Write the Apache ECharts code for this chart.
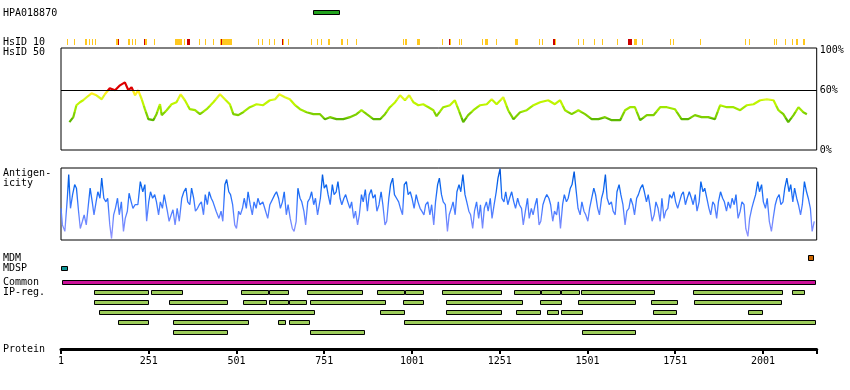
<!DOCTYPE html>
<html><head><meta charset="utf-8">
<script src="https://cdn.jsdelivr.net/npm/echarts@6/dist/echarts.min.js"></script>
<style>html,body{margin:0;padding:0;background:#fff}#c{width:850px;height:390px}</style>
</head><body><div id="c"></div>
<script>
// ---------------- data ----------------
const PROTEIN_LEN = 2154;
const axisTickValues = [1,251,501,751,1001,1251,1501,1751,2001];

const hpaFragment = [[720,795]];

const hsid10Yellow = [[18,21],[37,40],[69,75],[80,83],[88,91],[97,100],[157,164],[193,198],[204,207],[213,216],[240,247],[265,268],[326,345],[351,354],[394,397],[412,415],[433,437],[453,487],[563,566],[573,577],[593,596],[607,610],[634,637],[648,651],[714,717],[730,733],[743,746],[763,767],[799,803],[817,820],[842,845],[975,979],[982,987],[1014,1024],[1087,1090],[1105,1113],[1134,1137],[1140,1143],[1201,1204],[1208,1218],[1239,1242],[1295,1303],[1363,1366],[1372,1375],[1408,1412],[1475,1478],[1489,1492],[1519,1522],[1542,1545],[1586,1589],[1634,1642],[1656,1659],[1737,1740],[1744,1747],[1821,1824],[1950,1953],[1960,1964],[2031,2034],[2039,2042],[2064,2067],[2084,2087],[2096,2100],[2114,2120]];
const hsid10Red = [[164,167],[237,240],[361,368],[456,460],[631,634],[1106,1109],[1403,1408],[1616,1628]];

const hsid50 = [[25,28],[36,33],[45,45],[55,48],[64,50],[74,53],[88,57],[102,55],[117,51],[126,56],[140,62],[155,60],[169,65],[183,68],[193,60],[202,63],[212,55],[221,60],[231,51],[240,41],[250,31],[264,30],[273,36],[283,46],[288,35],[302,40],[316,46],[330,48],[342,56],[354,50],[368,41],[383,40],[397,36],[416,41],[435,48],[454,56],[468,51],[482,46],[492,36],[506,35],[520,38],[539,43],[558,46],[577,45],[596,50],[611,51],[623,56],[639,53],[653,51],[668,45],[682,41],[701,38],[720,36],[739,36],[753,31],[767,33],[786,31],[805,31],[824,33],[843,36],[857,40],[872,36],[891,31],[910,31],[924,36],[938,43],[953,48],[967,55],[981,50],[993,55],[1005,48],[1019,45],[1033,46],[1048,43],[1062,40],[1071,34],[1090,43],[1109,45],[1123,50],[1133,41],[1147,28],[1161,35],[1176,40],[1195,45],[1214,46],[1228,51],[1242,46],[1261,53],[1275,40],[1290,31],[1309,38],[1328,40],[1347,45],[1366,48],[1389,50],[1408,46],[1423,50],[1437,40],[1456,36],[1475,40],[1494,36],[1513,31],[1532,31],[1551,33],[1570,30],[1594,30],[1608,40],[1622,43],[1636,43],[1651,30],[1670,35],[1689,35],[1708,43],[1727,43],[1750,41],[1769,31],[1788,31],[1807,35],[1826,33],[1845,33],[1864,31],[1879,45],[1898,43],[1917,43],[1936,40],[1955,45],[1974,46],[1993,50],[2012,51],[2031,50],[2045,40],[2059,36],[2073,28],[2088,35],[2102,43],[2116,38],[2126,36]];

const antigenicity = [[1,44],[5,21],[12,12],[19,58],[23,91],[28,44],[34,63],[40,77],[45,72],[51,40],[56,16],[62,26],[67,35],[73,21],[79,49],[84,72],[90,53],[95,35],[101,53],[106,67],[112,58],[117,86],[123,58],[129,53],[134,58],[140,21],[145,2],[151,35],[156,44],[162,58],[167,35],[173,53],[179,12],[184,30],[190,40],[195,65],[201,53],[206,44],[212,49],[220,49],[227,81],[234,67],[240,77],[245,26],[251,53],[256,67],[262,58],[268,63],[273,53],[279,35],[284,53],[290,44],[295,63],[304,40],[309,26],[315,35],[320,42],[326,21],[332,44],[338,26],[345,58],[351,67],[357,72],[362,53],[368,49],[373,72],[379,58],[384,40],[390,44],[395,49],[401,53],[407,35],[412,63],[418,49],[423,67],[429,58],[434,53],[443,40],[451,30],[457,40],[462,26],[468,77],[473,84],[479,67],[484,63],[490,49],[496,21],[501,16],[507,40],[512,35],[518,44],[523,58],[529,44],[534,67],[540,49],[546,35],[551,53],[557,44],[562,58],[568,49],[576,53],[584,40],[590,30],[596,49],[601,49],[610,63],[615,67],[621,58],[626,44],[632,53],[637,67],[643,35],[648,49],[654,30],[660,16],[665,12],[671,26],[676,72],[682,58],[687,53],[693,40],[698,21],[704,53],[710,58],[715,67],[721,49],[726,58],[732,35],[740,58],[746,91],[751,72],[757,77],[762,63],[768,49],[774,77],[779,63],[785,67],[790,81],[796,58],[801,49],[807,58],[812,63],[818,53],[824,44],[829,53],[835,30],[840,40],[846,21],[851,35],[857,63],[862,53],[868,70],[874,40],[879,63],[885,70],[890,58],[896,63],[901,40],[907,49],[913,67],[918,49],[924,21],[929,26],[935,58],[940,77],[946,86],[951,63],[957,58],[963,53],[968,44],[974,35],[979,77],[985,81],[990,63],[996,67],[1001,58],[1007,44],[1013,63],[1018,53],[1024,44],[1029,40],[1035,35],[1040,49],[1046,53],[1052,35],[1057,49],[1063,21],[1068,53],[1074,77],[1079,86],[1085,63],[1090,53],[1096,49],[1102,12],[1107,35],[1113,44],[1118,53],[1124,35],[1129,67],[1135,77],[1140,67],[1146,91],[1152,63],[1157,53],[1163,40],[1168,35],[1174,16],[1179,40],[1185,53],[1191,30],[1196,49],[1202,16],[1207,44],[1213,53],[1218,40],[1224,58],[1229,30],[1235,49],[1241,67],[1246,86],[1252,99],[1257,58],[1263,53],[1268,67],[1274,49],[1279,58],[1285,67],[1291,53],[1296,44],[1302,58],[1307,49],[1313,44],[1318,21],[1324,40],[1330,58],[1335,30],[1341,44],[1346,35],[1352,49],[1357,58],[1363,21],[1368,26],[1374,49],[1380,58],[1385,63],[1391,58],[1396,49],[1402,26],[1407,40],[1413,35],[1418,53],[1424,16],[1430,49],[1435,63],[1441,53],[1446,58],[1452,72],[1457,77],[1463,95],[1469,67],[1474,44],[1480,35],[1485,53],[1491,40],[1496,35],[1502,26],[1507,44],[1513,58],[1519,72],[1524,63],[1530,44],[1535,35],[1541,58],[1546,67],[1552,91],[1557,58],[1563,49],[1569,53],[1574,40],[1580,35],[1585,67],[1591,77],[1596,63],[1602,49],[1608,21],[1613,40],[1619,44],[1624,58],[1630,49],[1635,35],[1641,58],[1646,63],[1652,72],[1658,77],[1663,67],[1669,53],[1674,63],[1680,44],[1685,26],[1691,35],[1696,53],[1702,44],[1708,26],[1713,58],[1719,30],[1724,40],[1730,44],[1735,63],[1741,58],[1747,67],[1752,53],[1758,44],[1763,53],[1769,63],[1774,67],[1780,49],[1785,58],[1791,67],[1797,58],[1802,49],[1808,63],[1813,40],[1819,53],[1824,81],[1830,67],[1835,72],[1841,58],[1847,44],[1852,35],[1858,53],[1863,49],[1869,30],[1874,53],[1880,67],[1886,58],[1891,53],[1897,40],[1902,53],[1908,44],[1913,58],[1919,49],[1924,63],[1930,30],[1936,40],[1941,53],[1947,49],[1952,16],[1958,5],[1963,30],[1969,44],[1974,53],[1980,63],[1986,81],[1991,67],[1997,77],[2002,53],[2008,44],[2013,58],[2019,26],[2025,12],[2030,30],[2036,49],[2041,58],[2047,63],[2052,49],[2058,53],[2063,72],[2069,86],[2075,67],[2080,77],[2086,53],[2091,72],[2097,58],[2102,49],[2108,35],[2113,49],[2119,81],[2125,67],[2130,58],[2136,44],[2141,12],[2147,26]];

const mdm = [[2130,2145]];
const mdsp = [[0,22]];
const common = [[4,2151]];
const ipReg = [
  [[96,251],[258,349],[515,593],[593,651],[703,862],[902,980],[980,1034],[1087,1257],[1293,1368],[1368,1425],[1425,1479],[1483,1692],[1802,2057],[2084,2120]],
  [[96,253],[310,476],[520,589],[594,650],[651,703],[711,928],[976,1036],[1099,1316],[1367,1428],[1475,1638],[1683,1758],[1805,2054]],
  [[110,726],[911,980],[1099,1257],[1298,1368],[1387,1419],[1426,1487],[1689,1755],[1959,2000]],
  [[164,251],[321,538],[620,643],[651,711],[979,2151]],
  [[321,476],[711,866],[1486,1638]]
];

// ---------------- chart ----------------
const FONT = '10px "DejaVu Sans Mono"';
const L = 61, W = 755.7;

function rectItem(h, fill, stroke) {
  return function (params, api) {
    const a = api.coord([api.value(0), api.value(2)]);
    const b = api.coord([api.value(1), api.value(2)]);
    let x0 = Math.round(a[0]), x1 = Math.round(b[0]);
    if (x1 - x0 < 1) x1 = x0 + 1;
    const top = Math.floor(a[1] - h / 2);
    if (stroke) {
      return {type: 'rect', shape: {x: x0 + 0.5, y: top + 0.5, width: Math.max(x1 - x0 - 1, 1), height: h - 1},
        style: {fill: fill, stroke: stroke, lineWidth: 1}};
    }
    return {type: 'rect', shape: {x: x0, y: top, width: x1 - x0, height: h}, style: {fill: fill}};
  };
}
function rows(list, row) { return list.map(([s, e]) => [s, e, row]); }

const ipData = [];
ipReg.forEach((r, i) => r.forEach(([s, e]) => ipData.push([s, e, 3.4 + i])));

const xAxisBase = (gi) => ({gridIndex: gi, type: 'value', min: 1, max: PROTEIN_LEN, show: false});

const labels = [
  ['HPA018870', 13], ['HsID 10', 42.5], ['HsID 50', 52.5], ['Antigen-', 173.5], ['icity', 183.5],
  ['MDM', 258], ['MDSP', 268], ['Common', 282], ['IP-reg.', 292], ['Protein', 349]
];

const option = {
  animation: false,
  backgroundColor: '#fff',
  textStyle: {fontFamily: 'DejaVu Sans Mono'},
  grid: [
    {left: L, width: W, top: 12.5, height: 30},
    {left: L, width: W, top: 48, height: 102, show: true, borderColor: '#000', borderWidth: 1},
    {left: L, width: W, top: 168, height: 72, show: true, borderColor: '#000', borderWidth: 1},
    {left: L, width: W, top: 258.5, height: 74},
    {left: L, width: W, top: 300, height: 49}
  ],
  xAxis: [
    xAxisBase(0), xAxisBase(1), xAxisBase(2), xAxisBase(3),
    {gridIndex: 4, type: 'value', min: 1, max: PROTEIN_LEN, position: 'bottom',
     axisLine: {show: true, lineStyle: {color: '#000', width: 3}},
     axisTick: {show: true, customValues: axisTickValues.concat([PROTEIN_LEN]), length: 5, lineStyle: {color: '#000', width: 2}},
     axisLabel: {show: true, customValues: axisTickValues, formatter: v => String(v), color: '#000', fontSize: 10, fontFamily: 'DejaVu Sans Mono', margin: 7},
     splitLine: {show: false}}
  ],
  yAxis: [
    {gridIndex: 0, type: 'value', min: 0, max: 1, inverse: true, show: false},
    {gridIndex: 1, type: 'value', min: 0, max: 102.5, position: 'right',
     axisLine: {show: false}, axisTick: {show: false}, splitLine: {show: false},
     axisLabel: {show: true, customValues: [0, 60, 100], formatter: v => v + '%', color: '#000', fontSize: 10, fontFamily: 'DejaVu Sans Mono', margin: 3}},
    {gridIndex: 2, type: 'value', min: 0, max: 100, show: false},
    {gridIndex: 3, type: 'value', min: 0, max: 7.4, inverse: true, show: false},
    {gridIndex: 4, type: 'value', min: 0, max: 1, show: false}
  ],
  visualMap: [
    {type: 'piecewise', show: false, seriesIndex: 3, dimension: 1,
     pieces: [
       {lt: 32, color: '#5cb800'}, {gte: 32, lt: 38, color: '#7fd000'}, {gte: 38, lt: 44, color: '#9fe800'},
       {gte: 44, lt: 50, color: '#bff500'}, {gte: 50, lt: 55, color: '#dcf71c'}, {gte: 55, lt: 60, color: '#ffee22'},
       {gte: 60, color: '#dd0000'}
     ]},
    {type: 'continuous', show: false, seriesIndex: 4, dimension: 1, min: 0, max: 100,
     inRange: {color: ['#9696ff', '#7088ff', '#3a78ff', '#0a66ee', '#0052d6']}}
  ],
  series: [
    {type: 'custom', xAxisIndex: 0, yAxisIndex: 0, clip: false, renderItem: rectItem(5, '#22a31e', '#000'), data: rows(hpaFragment, 0)},
    {type: 'custom', xAxisIndex: 0, yAxisIndex: 0, clip: false, renderItem: rectItem(6, '#ffc81e', null), data: rows(hsid10Yellow, 1)},
    {type: 'custom', xAxisIndex: 0, yAxisIndex: 0, clip: false, renderItem: rectItem(6, '#cc0000', null), data: rows(hsid10Red, 1)},
    {type: 'line', xAxisIndex: 1, yAxisIndex: 1, data: hsid50, showSymbol: false, symbol: 'none',
     lineStyle: {width: 2.2}, z: 3,
     markLine: {silent: true, symbol: ['none', 'none'], label: {show: false}, lineStyle: {color: '#000', type: 'solid', width: 1}, data: [{yAxis: 60}]}},
    {type: 'line', xAxisIndex: 2, yAxisIndex: 2, data: antigenicity, showSymbol: false, symbol: 'none', lineStyle: {width: 1.3}},
    {type: 'custom', xAxisIndex: 3, yAxisIndex: 3, clip: false, renderItem: rectItem(6, '#cc6600', '#000'), data: rows(mdm, 0)},
    {type: 'custom', xAxisIndex: 3, yAxisIndex: 3, clip: false, renderItem: rectItem(5, '#109595', '#000'), data: rows(mdsp, 1)},
    {type: 'custom', xAxisIndex: 3, yAxisIndex: 3, clip: false, renderItem: rectItem(5, '#cc1199', '#000'), data: rows(common, 2.4)},
    {type: 'custom', xAxisIndex: 3, yAxisIndex: 3, clip: false, renderItem: rectItem(5, '#9ccc5a', '#000'), data: ipData},
    {type: 'line', xAxisIndex: 4, yAxisIndex: 4, data: [], showSymbol: false}
  ],
  graphic: labels.map(([t, y]) => ({type: 'text', x: 3, y: y, silent: true,
    style: {text: t, font: FONT, fill: '#000', verticalAlign: 'middle', align: 'left'}}))
};

const chart = echarts.init(document.getElementById('c'), null, {renderer: 'canvas'});
chart.setOption(option);
</script>
</body></html>
